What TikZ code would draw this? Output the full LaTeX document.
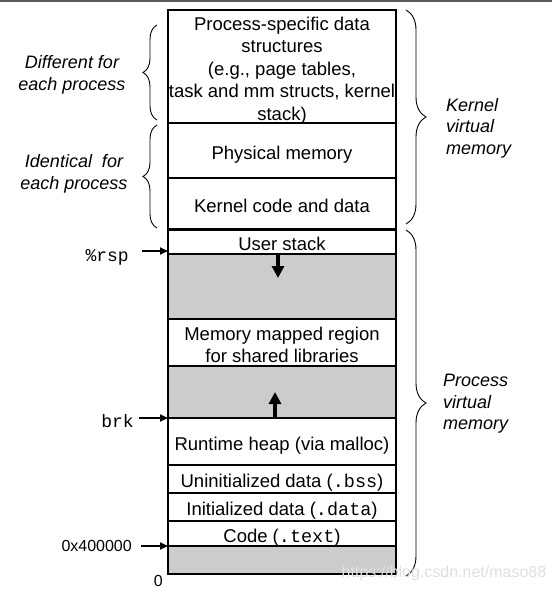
\documentclass[tikz,border=0pt]{standalone}
\usepackage{fontspec}
\setmainfont{Liberation Sans}
\setmonofont{Liberation Mono}
\usetikzlibrary{arrows.meta,positioning,decorations.pathreplacing}
\definecolor{gapgray}{RGB}{204,204,204}

\begin{document}
\begin{tikzpicture}[x=1pt,y=1pt,
  seg/.style={draw,line width=1.2pt,minimum width=228pt,inner sep=0pt,outer sep=0pt,align=center,
    text height=17.5pt,text depth=0pt,font=\fontsize{18.5}{22.5}\selectfont},
  gap/.style={seg,fill=gapgray},
  ptr/.style={-{Triangle[length=8pt,width=7pt]},line width=1.8pt,shorten <=#1},
  growarrow/.style={-{Triangle[length=12pt,width=12pt]},line width=3.5pt},
  side/.style={font=\fontsize{18}{21.5}\selectfont\itshape,inner sep=0pt},
  brace/.style={decorate,decoration={brace,amplitude=#1},line width=0.9pt},
  addr/.style={inner sep=0pt,font=\fontsize{16}{18}\selectfont},
  mono/.style={inner sep=0pt,yshift=-3pt,font=\fontsize{18}{20}\selectfont\ttfamily}]
  \useasboundingbox (0,0) rectangle (552,-592);
  \draw[line width=2pt,gray!70!black] (0,-1) -- (552,-1);

  % kernel part
  \node[seg,minimum height=113pt,anchor=north,text height=107.5pt] (pss) at (282,-10)
    {Process-specific data\\structures\\(e.g., page tables,\\task and mm structs, kernel\\stack)};
  \node[seg,minimum height=55pt] (phys) [below=0pt of pss] {Physical memory};
  \node[seg,minimum height=51.5pt] (kcode) [below=0pt of phys] {Kernel code and data};

  % process part
  \node[seg,minimum height=24.5pt] (ustack) [below=0pt of kcode] {User stack};
  \node[gap,minimum height=65pt] (gap1) [below=0pt of ustack] {};
  \node[seg,minimum height=47pt,text height=40pt] (mmap) [below=0pt of gap1] {Memory mapped region\\for shared libraries};
  \node[gap,minimum height=52pt] (gap2) [below=0pt of mmap] {};
  \node[seg,minimum height=47pt] (heap) [below=0pt of gap2] {Runtime heap (via malloc)};
  \node[seg,minimum height=28pt] (bss) [below=0pt of heap] {Uninitialized data (\texttt{.bss})};
  \node[seg,minimum height=28pt] (data) [below=0pt of bss] {Initialized data (\texttt{.data})};
  \node[seg,minimum height=25pt] (text) [below=0pt of data] {Code (\texttt{.text})};
  \node[gap,minimum height=28pt] (gap3) [below=0pt of text] {};
  \draw[line width=3pt] (kcode.south west) -- (kcode.south east);

  % growth arrows
  \draw[growarrow] ([xshift=-4pt]ustack.south) -- ++(0,-24);
  \draw[growarrow] ([xshift=-7pt]heap.north) -- ++(0,26);

  % addresses
  \node[mono] (rsp) [left=39pt of ustack.south west] {\%rsp};
  \node[mono] (brk) [left=34pt of heap.north west] {brk};
  \node[addr] (start) [left=36pt of text.south west] {0x400000};
  \node[addr] (zero) [below left=1pt and 5pt of gap3.south west] {0};
  \draw[ptr=13pt] (rsp.east |- 0,-251) -- ([yshift=3pt]ustack.south west);
  \draw[ptr=5pt] (brk.east |- heap.north west) -- (heap.north west);
  \draw[ptr=9pt] (start) -- (text.south west);

  % braces
  \draw[brace=14pt] (157,-120) -- (157,-25);
  \draw[brace=14pt] (157,-228) -- (157,-125);
  \draw[brace=20pt] (406,-10) -- (406,-224);
  \draw[brace=20pt] (406,-230) -- (406,-576);

  \node[side,align=center] (diff) at (72,-75) {Different for\\each process};
  \node[side,align=center] (same) at (74,-174) {Identical~ for\\each process};
  \node[side,align=left,anchor=west] (kvm) at (446,-128) {Kernel\\virtual\\memory};
  \node[side,align=left,anchor=west] (pvm) at (443,-404) {Process\\virtual\\memory};

  \node[text=gray!25,inner sep=0pt,font=\fontsize{16}{16}\selectfont] (wm) at (444,-573) {https://blog.csdn.net/maso88};
\end{tikzpicture}
\end{document}
